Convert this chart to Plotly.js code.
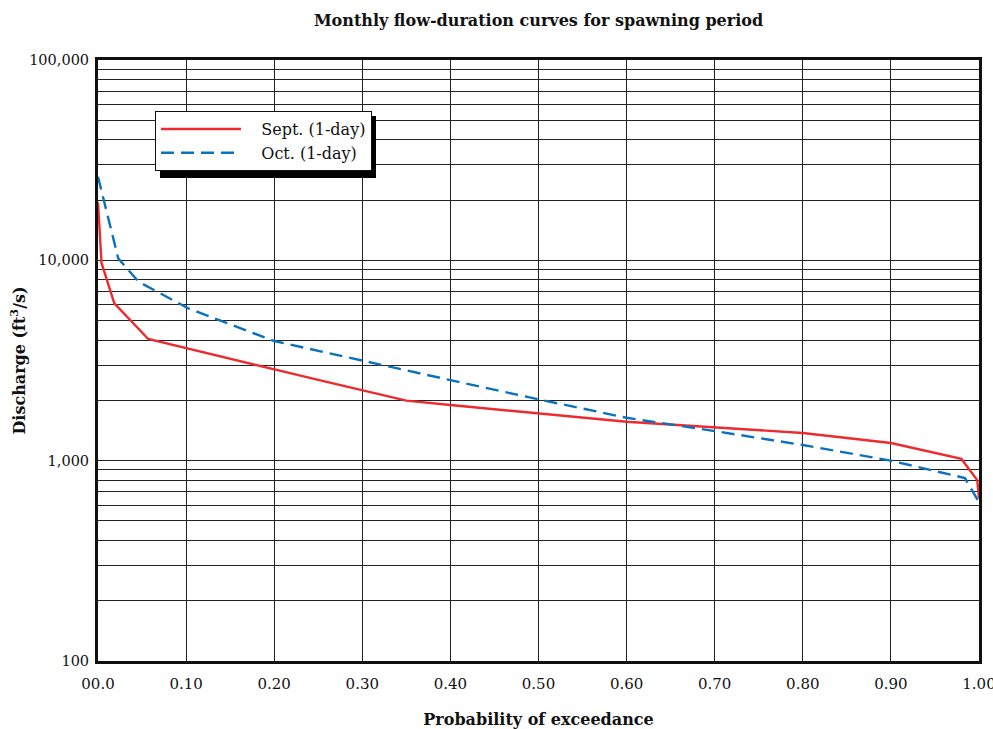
<!DOCTYPE html>
<html>
<head>
<meta charset="utf-8">
<script src="https://cdn.plot.ly/plotly-3.0.1.min.js"></script>
<style>
html,body{margin:0;padding:0;background:#fff;}
#chart{width:993px;height:729px;}
</style>
</head>
<body>
<div id="chart"></div>
<script>
// ---- data ----
var septProb = [0, 0.004, 0.0185, 0.057, 0.25, 0.35, 0.40, 0.50, 0.60, 0.80, 0.90, 0.98, 0.998, 1.0];
var septFlow = [19500, 9700, 6100, 4050, 2530, 1995, 1895, 1722, 1564, 1374, 1225, 1020, 800, 650];

var octProb = [0, 0.023, 0.046, 0.1025, 0.20, 0.30, 0.40, 0.50, 0.60, 0.70, 0.80, 0.90, 0.984, 1.0];
var octFlow = [26100, 10230, 7820, 5760, 3955, 3150, 2524, 2024, 1637, 1405, 1197, 1000, 819, 620];

var seriesNames = ["Sept. (1-day)", "Oct. (1-day)"];

var xTickVals = [0, 0.1, 0.2, 0.3, 0.4, 0.5, 0.6, 0.7, 0.8, 0.9, 1.0];
var xTickText = ["00.0", "0.10", "0.20", "0.30", "0.40", "0.50", "0.60", "0.70", "0.80", "0.90", "1.00"];

var yDecades = [100, 1000, 10000, 100000];
var yDecadeText = ["100", "1,000", "10,000", "100,000"];
var yMultipliers = [2, 3, 4, 5, 6, 7, 8, 9];

// minor log grid values between decades
var yMinorVals = [];
for (var d = 0; d < yDecades.length - 1; d++) {
  for (var m = 0; m < yMultipliers.length; m++) {
    yMinorVals.push(yDecades[d] * yMultipliers[m]);
  }
}

var FONT = "DejaVu Serif, Liberation Serif, serif";
var NB = "\u00a0";

var traces = [
  {x: septProb, y: septFlow, name: NB + NB + NB + seriesNames[0], type: "scatter", mode: "lines",
   line: {color: "#ee2a2f", width: 2.4}},
  {x: octProb, y: octFlow, name: NB + NB + NB + seriesNames[1], type: "scatter", mode: "lines",
   line: {color: "#0a72bd", width: 2.4, dash: "13px,7px"}}
];

var layout = {
  width: 993, height: 729,
  margin: {l: 98, r: 14, t: 60, b: 68},
  paper_bgcolor: "#fff", plot_bgcolor: "#fff",
  font: {family: FONT, size: 15, color: "#111"},
  title: {text: "<b>Monthly flow-duration curves for spawning period</b>",
          font: {family: FONT, size: 16, color: "#111"},
          x: 0.5, xref: "paper", y: 0.972, yref: "container", yanchor: "middle"},
  xaxis: {
    range: [0, 1], tickvals: xTickVals, ticktext: xTickText,
    showgrid: true, gridcolor: "#222", gridwidth: 1,
    showline: true, linecolor: "#111", linewidth: 3, mirror: true,
    ticks: "", ticklabelstandoff: 7, zeroline: false,
    ticklabeloverflow: "allow",
    tickfont: {family: FONT, size: 15, color: "#111"},
    title: {text: "<b>Probability of exceedance</b>", standoff: 23,
            font: {family: FONT, size: 16, color: "#111"}},
    automargin: false
  },
  yaxis: {
    type: "log", range: [2, 5], tickvals: yDecades, ticktext: yDecadeText,
    showgrid: true, gridcolor: "#222", gridwidth: 1,
    minor: {tickvals: yMinorVals, showgrid: true, gridcolor: "#222", gridwidth: 1, ticks: ""},
    showline: true, linecolor: "#111", linewidth: 3, mirror: true,
    ticks: "", ticklabelstandoff: 3, zeroline: false,
    tickfont: {family: FONT, size: 14.5, color: "#111"},
    title: {text: "<b>Discharge (ft<sup>3</sup>/s)</b>", standoff: 0,
            font: {family: FONT, size: 16, color: "#111"}},
    automargin: false
  },
  showlegend: true,
  legend: {
    x: 0.0647, y: 0.915, xanchor: "left", yanchor: "top",
    xref: "paper", yref: "paper",
    bgcolor: "#fff", bordercolor: "#111", borderwidth: 1,
    font: {family: FONT, size: 16, color: "#111"},
    itemwidth: 80, tracegroupgap: 0
  },
  shapes: [
    {type: "rect", xref: "paper", yref: "paper", layer: "above",
     x0: (160 - 98) / 881, x1: (376 - 98) / 881, y0: 1 - (178 - 60) / 601, y1: 1 - (116 - 60) / 601,
     fillcolor: "#000", line: {width: 0}}
  ]
};

Plotly.newPlot("chart", traces, layout, {displayModeBar: false, staticPlot: true});
</script>
</body>
</html>
